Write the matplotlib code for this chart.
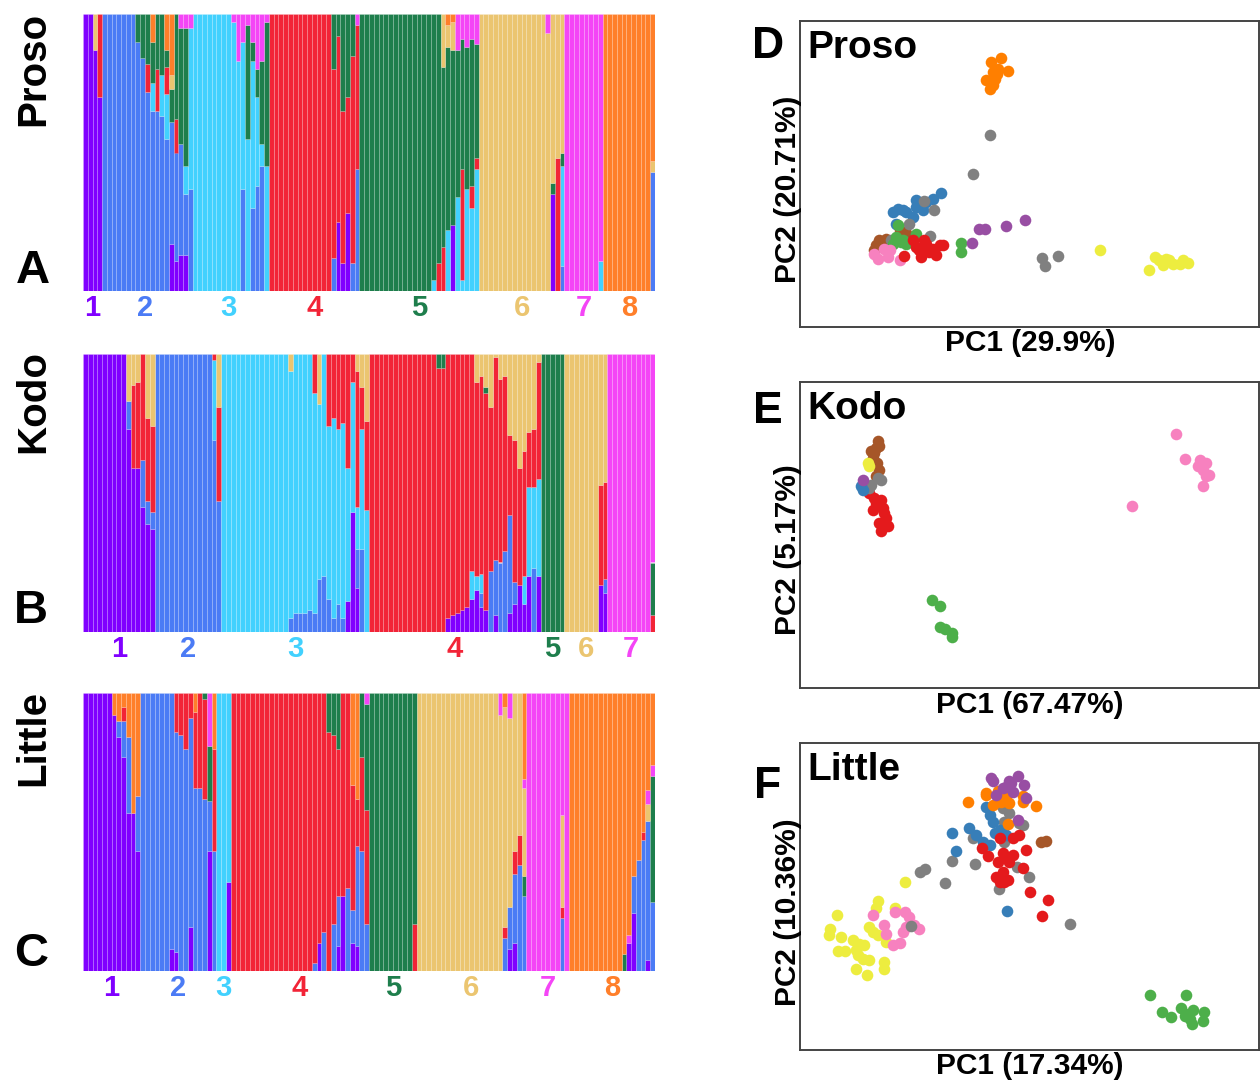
import numpy as np
import matplotlib
matplotlib.use('Agg')
import matplotlib.pyplot as plt
import matplotlib.transforms as mtransforms

plt.rcParams['font.family'] = ['Liberation Sans', 'DejaVu Sans']

# ---- STRUCTURE (A-C) ----
# each string = one individual: main cluster, then "cluster:fraction" of the admixed parts
q_colors = ['#8000FF', '#4B7BF5', '#42D1FE', '#F22437', '#1E7E4C', '#EBC570', '#F445F6', '#FF7F2A']

proso_q = (["1", "1", "1 6:.13", "1 4:.3"]
           + ["2"] * 7
           + ["2 5:.1", "2 5:.16", "2 4:.1 5:.18", "2 3:.1 5:.15 8:.1", "2 4:.15 5:.2", "2 3:.15 5:.22",
              "2 3:.16 4:.1 5:.06 8:.13", "2 1:.17 5:.12 6:.05 8:.22", "2 1:.11 4:.12 5:.38",
              "2 1:.13 5:.42 7:.05", "2 1:.13 3:.1 5:.5 7:.05"]
           + ["3 2:.37 7:.05"] + ["3"] * 8
           + ["3 7:.03", "3 7:.17", "3 2:.37 7:.1", "3 5:.41 7:.04", "3 2:.3 5:.07 7:.1",
              "3 2:.38 5:.1 7:.2", "3 2:.45 5:.3 7:.17", "3 5:.52 7:.03"]
           + ["4"] * 13
           + ["4 2:.12 5:.2", "4 1:.25 5:.08", "4 1:.1 5:.35", "4 1:.28 5:.3", "4 2:.1 5:.15", "4 2:.44 7:.04"]
           + ["5"] * 15
           + ["5 3:.04", "5 4:.1", "5 4:.16 6:.19", "5 3:.22 6:.08 8:.04", "5 1:.24 6:.1 8:.03",
              "5 3:.34 7:.13", "5 3:.04 4:.4 7:.09", "5 3:.37 7:.12", "5 3:.3 4:.08 7:.09", "5 3:.44 4:.04 7:.11"]
           + ["6"] * 14
           + ["6 7:.07", "6 1:.35 5:.04", "6 4:.48", "6 2:.09 3:.36 5:.05"]
           + ["7"] * 7 + ["7 3:.11"]
           + ["8"] * 10 + ["8 2:.43 6:.04"])

kodo_q = (["1"] * 9
          + ["1 2:.1 6:.17", "1 4:.3 6:.11", "1 4:.31 6:.1", "1 2:.17 4:.38", "1 2:.08 4:.3 6:.23",
             "1 2:.06 4:.31 6:.26"]
          + ["2"] * 12 + ["2 3:.29 4:.02", "2 4:.34 6:.19"]
          + ["3"] * 14
          + ["3 2:.05 6:.06", "3 2:.07", "3 2:.07", "3 2:.07", "3 2:.08", "3 2:.07 4:.14", "3 2:.19 6:.18",
             "3 2:.2", "3 2:.12 4:.26", "3 2:.05 4:.23", "3 2:.1 4:.27", "3 2:.05 4:.25", "3 1:.11 4:.41",
             "3 1:.43 4:.1", "3 1:.16 2:.14 4:.49 6:.06", "3 2:.3 4:.15 6:.12", "3 4:.32 6:.24"]
          + ["4"] * 14
          + ["4 5:.05", "4 5:.05", "4 1:.05", "4 1:.06", "4 1:.07", "4 1:.08", "4 1:.09", "4 1:.12 3:.1",
             "4 1:.15 3:.05 6:.1", "4 1:.09 2:.05 3:.07 6:.08", "4 1:.08 5:.02 6:.12", "4 2:.22 6:.19",
             "4 1:.06 2:.2 6:.01", "4 2:.25 6:.09", "4 2:.29 6:.08", "4 1:.07 2:.35 6:.29",
             "4 1:.1 2:.08 6:.31", "4 1:.17 6:.41", "4 1:.1 3:.1 6:.35", "4 1:.2 3:.32 6:.28",
             "4 2:.23 3:.29 6:.27", "4 1:.2 3:.35 6:.03"]
          + ["5"] * 5
          + ["6"] * 7 + ["6 1:.17 4:.36", "6 1:.14 2:.05 4:.35"]
          + ["7"] * 9 + ["7 4:.06 5:.19"])

little_q = (["1"] * 6
            + ["1 8:.08", "1 2:.06 8:.1", "1 2:.13 4:.05 8:.05", "1 2:.27 8:.16", "1 8:.43", "1 2:.2 8:.37"]
            + ["2"] * 6 + ["2 1:.08"]
            + ["2 1:.07 4:.14", "2 4:.15", "2 4:.2", "2 1:.16 4:.09", "2 4:.27 8:.07", "2 4:.34",
               "2 4:.36 5:.02", "2 1:.43 5:.2 7:.19", "2 4:.37 8:.2"]
            + ["3", "3", "3 1:.32"]
            + ["4"] * 17
            + ["4 2:.03", "4 1:.1", "4 2:.14", "4 5:.14", "4 2:.17 5:.15", "4 1:.09 2:.18 5:.2", "4 1:.27",
               "4 2:.3", "4 1:.1 2:.12 8:.33", "4 1:.09 2:.36 8:.38", "4 2:.43 5:.23", "4 2:.17 5:.38 7:.04"]
            + ["5"] * 9 + ["5 4:.17"]
            + ["6"] * 17
            + ["6 7:.08", "6 2:.12 4:.04 8:.05", "6 1:.08 2:.15 7:.09", "6 1:.1 2:.25 4:.08",
               "6 2:.38 4:.11", "6 2:.27 5:.07 7:.03 8:.31"]
            + ["7"] * 7 + ["7 2:.19 4:.04 6:.33", "7"]
            + ["8"] * 11
            + ["8 5:.06", "8 1:.1 7:.03", "8 1:.21 2:.13", "8 2:.4", "8 2:.47 4:.03",
               "8 1:.04 2:.5 6:.06 7:.05", "8 2:.25 5:.45 7:.04"])

# ---- PCA (D-F), arbitrary units 0-100 on both axes ----
pca_colors = {'red': '#E41A1C', 'blue': '#377EB8', 'green': '#4DAF4A', 'purple': '#984EA3',
              'orange': '#FF7F00', 'yellow': '#EDED3F', 'brown': '#A65628', 'pink': '#F781BF',
              'gray': '#808080'}

proso_blue_x = [20.2, 22.4, 25.3, 26.7, 28.9, 30.7, 24.6, 20.9, 23.1, 25.3, 21.3, 27.5]
proso_blue_y = [37.6, 38.1, 41.4, 38.1, 41.9, 43.8, 35.9, 33.8, 37.6, 39.2, 38.7, 40.8]
proso_brown_x = [16.6, 17.3, 18.8, 16.2, 21.7, 23.1]
proso_brown_y = [26.7, 28.3, 28.9, 25.1, 31.6, 30.7]
proso_gray_x = [41.4, 37.7, 27.0, 29.1, 23.8, 19.8, 28.3, 52.7, 56.3, 53.3]
proso_gray_y = [62.9, 50.1, 41.2, 38.3, 33.8, 28.3, 29.8, 22.7, 23.2, 19.8]
proso_green_x = [35.1, 35.1, 21.3, 25.3, 22.0, 23.1, 20.9, 22.4, 20.2]
proso_green_y = [27.6, 24.5, 33.2, 30.5, 27.8, 27.2, 29.4, 28.3, 27.2]
proso_pink_x = [16.2, 18.4, 19.1, 16.9, 21.7, 19.5]
proso_pink_y = [24.0, 25.6, 22.9, 22.3, 21.8, 25.1]
proso_red_x = [24.6, 26.0, 27.5, 28.9, 30.4, 31.1, 26.4, 22.7, 29.7, 25.3, 28.2, 27.1]
proso_red_y = [28.3, 25.1, 27.2, 25.6, 26.7, 26.7, 22.9, 23.1, 23.4, 26.1, 24.5, 28.3]
proso_purple_x = [38.9, 40.4, 44.8, 49.0, 37.4]
proso_purple_y = [31.9, 31.9, 32.9, 35.0, 27.6]
proso_orange_x = [41.6, 43.8, 42.0, 45.3, 42.9, 40.6, 42.4, 41.3, 42.0, 43.1]
proso_orange_y = [86.6, 87.9, 83.3, 83.6, 82.8, 80.6, 81.2, 77.9, 79.0, 84.4]
proso_yellow_x = [65.3, 76.0, 77.3, 79.1, 80.5, 82.7, 84.5, 78.3, 81.2, 83.4, 79.8]
proso_yellow_y = [25.1, 18.5, 22.9, 20.2, 22.0, 20.7, 21.0, 21.8, 20.5, 21.8, 22.3]

kodo_brown_x = [16.9, 16.6, 16.2, 15.8, 16.7, 17.2, 16.6, 15.5, 17.3]
kodo_brown_y = [80.6, 78.4, 76.8, 75.2, 73.5, 71.4, 69.2, 77.3, 79.0]
kodo_red_x = [15.1, 16.2, 17.7, 15.8, 18.0, 18.8, 17.3, 19.1, 17.7, 18.4, 16.6]
kodo_red_y = [63.7, 62.1, 61.5, 58.3, 58.8, 55.6, 53.9, 52.8, 51.2, 57.2, 60.5]
kodo_gray_x = [15.5, 16.9, 17.7, 15.1]
kodo_gray_y = [66.4, 68.6, 68.1, 65.4]
kodo_blue_x = [13.3, 13.7]
kodo_blue_y = [65.9, 64.8]
kodo_purple_x = [13.8]
kodo_purple_y = [68.1]
kodo_yellow_x = [14.8, 15.1]
kodo_yellow_y = [73.5, 72.4]
kodo_green_x = [28.7, 30.4, 30.4, 31.5, 33.1, 33.1]
kodo_green_y = [28.6, 26.7, 19.8, 19.3, 18.0, 16.6]
kodo_pink_x = [82.0, 83.9, 87.1, 88.5, 86.7, 87.8, 89.2, 88.5, 87.8, 72.4, 87.4]
kodo_pink_y = [83.0, 74.8, 74.6, 73.5, 72.4, 71.4, 69.7, 69.2, 66.1, 59.6, 73.0]

little_yellow_x = [22.9, 16.9, 16.6, 20.6, 8.0, 6.6, 6.4, 8.9, 11.6, 12.9, 14.0, 8.2, 9.9, 12.6, 15.1,
                   15.8, 12.2, 13.7, 15.1, 12.2, 14.6, 18.4, 18.4, 18.8, 16.9]
little_yellow_y = [54.8, 48.6, 46.1, 46.4, 43.9, 39.5, 37.4, 36.8, 35.7, 34.6, 34.3, 32.1, 32.1, 30.8, 40.1,
                   38.5, 32.5, 29.5, 29.2, 26.5, 24.5, 28.6, 26.5, 35.2, 37.4]
little_pink_x = [15.8, 20.6, 22.9, 23.8, 18.4, 18.8, 22.4, 26.0, 20.2, 21.7, 23.1, 24.9]
little_pink_y = [43.9, 45.0, 45.0, 43.4, 40.6, 37.9, 38.5, 39.5, 34.3, 35.0, 40.1, 40.6]
little_gray_x = [44.2, 45.6, 47.8, 48.5, 44.5, 37.6, 44.5, 33.1, 38.1, 27.3, 26.2, 31.6, 43.3, 47.3, 49.9,
                 58.9, 24.2]
little_gray_y = [78.8, 77.3, 73.9, 73.3, 74.4, 69.0, 67.6, 61.5, 60.5, 58.8, 58.1, 54.5, 52.4, 59.7, 56.2,
                 41.1, 40.4]
little_blue_x = [33.1, 33.9, 36.8, 40.6, 41.3, 42.0, 44.2, 38.4, 39.8, 41.3, 43.5, 44.9, 42.4, 45.1]
little_blue_y = [70.8, 64.9, 72.4, 79.0, 76.6, 74.2, 71.1, 70.0, 67.9, 66.8, 71.7, 70.0, 70.6, 45.4]
little_orange_x = [36.6, 40.6, 43.1, 44.9, 48.5, 51.5, 42.0, 45.6, 43.8, 45.3, 48.5, 40.6]
little_orange_y = [80.9, 83.1, 84.4, 82.6, 80.9, 79.6, 79.8, 80.4, 80.9, 73.5, 82.6, 83.7]
little_purple_x = [41.6, 42.0, 45.6, 47.5, 48.9, 44.9, 46.4, 42.7, 49.3, 47.5, 46.0, 44.2]
little_purple_y = [88.6, 87.5, 87.5, 89.1, 86.2, 85.8, 84.2, 82.9, 82.0, 74.9, 86.9, 85.3]
little_red_x = [47.8, 46.4, 43.5, 39.7, 40.9, 44.2, 44.9, 45.6, 43.1, 49.3, 48.5, 44.2, 42.7, 45.3, 44.5,
                50.0, 54.0, 52.8, 43.5, 46.4]
little_red_y = [70.0, 69.0, 69.0, 65.7, 63.3, 64.1, 62.4, 61.3, 61.3, 65.1, 59.2, 58.1, 56.4, 55.3, 54.8,
                51.5, 48.8, 43.7, 54.8, 63.5]
little_brown_x = [52.5, 53.6]
little_brown_y = [67.6, 68.1]
little_green_x = [76.2, 84.2, 78.9, 80.9, 83.1, 84.2, 85.6, 88.0, 84.9, 87.8, 85.4, 83.8]
little_green_y = [17.8, 18.0, 12.3, 10.7, 13.6, 11.8, 12.9, 12.5, 10.1, 9.3, 8.5, 11.2]


def q_matrix(rows, k):
    m = np.zeros((len(rows), k))
    for i, s in enumerate(rows):
        tok = s.split()
        for t in tok[1:]:
            c, f = t.split(':')
            m[i, int(c) - 1] = float(f)
        m[i, int(tok[0]) - 1] = 1 - m[i].sum()
    return m


def draw_structure(ax, rows, k):
    m = q_matrix(rows, k)
    x = np.arange(len(rows))
    bottom = np.zeros(len(rows))
    for c in range(k):
        sel = m[:, c] > 0
        ax.bar(x[sel], m[sel, c], bottom=bottom[sel], width=1.0, color=q_colors[c],
               edgecolor=(1, 1, 1, 0.25), linewidth=0.4)
        bottom += m[:, c]
    ax.set_xlim(-0.5, len(rows) - 0.5)
    ax.set_ylim(0, 1)
    ax.axis('off')
    # cluster numbers under the bars
    mains = np.array([int(s.split()[0]) for s in rows])
    tr = mtransforms.blended_transform_factory(ax.transData, ax.transAxes)
    for c in range(1, k + 1):
        ax.text(x[mains == c].mean(), -0.062, str(c), transform=tr, ha='center', va='center',
                color=q_colors[c - 1], fontsize=21, fontweight='bold')


def draw_pca(ax, groups):
    for name, xs, ys in groups:
        ax.scatter(xs, ys, s=70, color=pca_colors[name], linewidths=0, zorder=3)
    ax.set_xlim(0, 100)
    ax.set_ylim(0, 100)
    ax.set_xticks([])
    ax.set_yticks([])
    for sp in ax.spines.values():
        sp.set_color('#444444')
        sp.set_linewidth(1.4)


W, H = 1260, 1082
fig = plt.figure(figsize=(W / 100, H / 100), dpi=100)


def box(l, t, r, b):
    return [l / W, 1 - b / H, (r - l) / W, (b - t) / H]


def ftext(x, y, s, **kw):
    fig.text(x / W, 1 - y / H, s, fontweight='bold', **kw)


axA = fig.add_axes(box(83, 14, 655, 291))
axB = fig.add_axes(box(83, 354, 655, 632))
axC = fig.add_axes(box(83, 693, 655, 971))
draw_structure(axA, proso_q, 8)
draw_structure(axB, kodo_q, 7)
draw_structure(axC, little_q, 8)

ftext(33, 12, 'Proso', rotation=90, ha='center', va='top', fontsize=29)
ftext(33, 350, 'Kodo', rotation=90, ha='center', va='top', fontsize=29)
ftext(33, 690, 'Little', rotation=90, ha='center', va='top', fontsize=29)
ftext(33, 293, 'A', ha='center', va='bottom', fontsize=34)
ftext(31, 633, 'B', ha='center', va='bottom', fontsize=34)
ftext(31, 976, 'C', ha='center', va='bottom', fontsize=34)

axD = fig.add_axes(box(800, 21, 1259, 327))
axE = fig.add_axes(box(800, 382, 1259, 688))
axF = fig.add_axes(box(800, 743, 1259, 1050))

draw_pca(axD, [('blue', proso_blue_x, proso_blue_y), ('brown', proso_brown_x, proso_brown_y),
               ('gray', proso_gray_x, proso_gray_y), ('green', proso_green_x, proso_green_y),
               ('pink', proso_pink_x, proso_pink_y), ('red', proso_red_x, proso_red_y),
               ('purple', proso_purple_x, proso_purple_y), ('orange', proso_orange_x, proso_orange_y),
               ('yellow', proso_yellow_x, proso_yellow_y)])
draw_pca(axE, [('red', kodo_red_x, kodo_red_y), ('brown', kodo_brown_x, kodo_brown_y),
               ('yellow', kodo_yellow_x, kodo_yellow_y), ('gray', kodo_gray_x, kodo_gray_y),
               ('blue', kodo_blue_x, kodo_blue_y), ('purple', kodo_purple_x, kodo_purple_y),
               ('green', kodo_green_x, kodo_green_y), ('pink', kodo_pink_x, kodo_pink_y)])
draw_pca(axF, [('yellow', little_yellow_x, little_yellow_y), ('pink', little_pink_x, little_pink_y),
               ('gray', little_gray_x, little_gray_y), ('blue', little_blue_x, little_blue_y),
               ('orange', little_orange_x, little_orange_y), ('purple', little_purple_x, little_purple_y),
               ('red', little_red_x, little_red_y), ('brown', little_brown_x, little_brown_y),
               ('green', little_green_x, little_green_y)])

# panel letters, titles and axis labels
for ycen, letter, title, ttop, xlab, xly, ylab, yly in [
        (46, 'D', 'Proso', 30, 'PC1 (29.9%)', 343, 'PC2 (20.71%)', 189),
        (412, 'E', 'Kodo', 391, 'PC1 (67.47%)', 705, 'PC2 (5.17%)', 550),
        (786, 'F', 'Little', 752, 'PC1 (17.34%)', 1066, 'PC2 (10.36%)', 912)]:
    ftext(768, ycen, letter, ha='center', va='center', fontsize=32)
    ftext(807, ttop, title, ha='left', va='top', fontsize=28)
    ftext(1030, xly, xlab, ha='center', va='center', fontsize=21.5)
    ftext(788, yly, ylab, rotation=90, ha='center', va='center', fontsize=21.5)

fig.savefig('out.png', dpi=100)
